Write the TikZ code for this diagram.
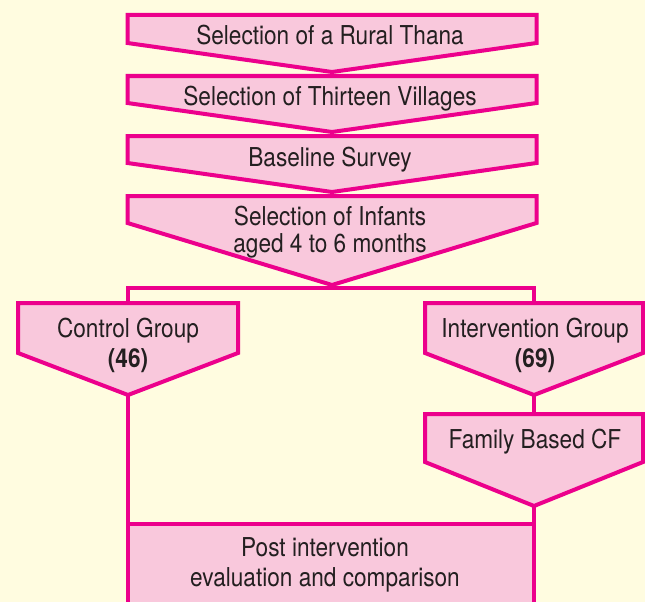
\documentclass[tikz,border=0pt]{standalone}
\usepackage{fontspec}
\setmainfont{TeX Gyre Heros}[FakeStretch=0.87]
\usetikzlibrary{calc}
\definecolor{rim}{HTML}{EC008C}
\definecolor{boxpink}{HTML}{F9C8DC}
\definecolor{papercream}{HTML}{FFFCE0}
\definecolor{ink}{HTML}{231F20}
\tikzset{
  arrowbox/.style={draw=rim,fill=boxpink,line width=4pt,line join=miter},
  link/.style={draw=rim,line width=4pt},
  boxtext/.style={text=ink,align=center,anchor=base,inner sep=0pt,font=\fontsize{26}{30}\selectfont}
}

\begin{document}
\begin{tikzpicture}[x=1pt,y=1pt]
\fill[papercream] (0,0) rectangle (645,-602);
\useasboundingbox (0,0) rectangle (645,-602);
% study chain (text base = last line)
\foreach \id/\yt/\ys/\yp/\yb/\txt in {thana/15/43/72/45/Selection of a Rural Thana,villages/76/103/132/105/Selection of Thirteen Villages,survey/136/163/192/166/Baseline Survey,infants/196/223/285/252/{Selection of Infants\\[-3pt]aged 4 to 6 months}}{
\draw[arrowbox] (127.5,-\yt) -- (536.5,-\yt) -- (536.5,-\ys) -- (332,-\yp) -- (127.5,-\ys) -- cycle;
\coordinate (\id-tip) at (332,-\yp);
\node[boxtext] (\id) at (330,-\yb) {\txt};}
\coordinate (split) at (332,-288);
% groups
\draw[arrowbox] (18,-303) -- (238,-303) -- (238,-353) -- (128,-395) -- (18,-353) -- cycle;
\coordinate (control-top) at (128,-303);\coordinate (control-tip) at (128,-395);
\node[boxtext] (control) at (128,-367) {Control Group\\\textbf{(46)}};
\draw[arrowbox] (425,-303) -- (643,-303) -- (643,-353) -- (534,-395) -- (425,-353) -- cycle;
\coordinate (interv-top) at (534,-303);\coordinate (interv-tip) at (534,-395);
\node[boxtext] (interv) at (535,-367) {Intervention Group\\\textbf{(69)}};
\draw[arrowbox] (425,-414) -- (643,-414) -- (643,-462) -- (534,-506) -- (425,-462) -- cycle;
\coordinate (family-top) at (534,-414);\coordinate (family-tip) at (534,-506);
\node[boxtext] (family) at (535,-448) {Family Based CF};
% evaluation
\draw[arrowbox] (128,-524) rectangle (534,-614);
\coordinate (post-west) at (128,-524);\coordinate (post-east) at (534,-524);
\node[boxtext] (post) at (325,-586) {Post intervention\\evaluation and comparison};
% connectors
\draw[link] (infants-tip) -- (split);
\draw[link] (control-top) |- (split) -| (interv-top);
\draw[link] (interv-tip) -- (family-top);
\draw[link] (control-tip) -- (post-west);
\draw[link] (family-tip) -- (post-east);
\end{tikzpicture}
\end{document}
